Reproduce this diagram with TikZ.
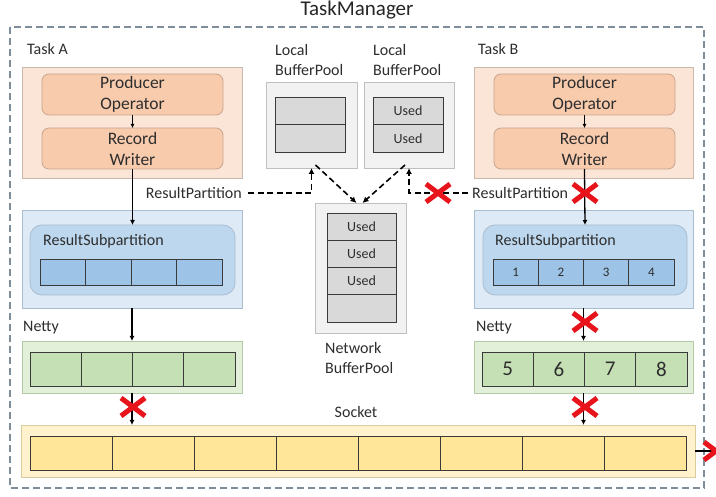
\documentclass[tikz,border=0pt]{standalone}
\usepackage{fontspec}
\setmainfont{Carlito}
\usetikzlibrary{arrows.meta}
\definecolor{txt}{HTML}{2E2E2E}
\definecolor{taskfill}{HTML}{FBE5D6}
\definecolor{taskline}{HTML}{C9B8AE}
\definecolor{opfill}{HTML}{F8CBAD}
\definecolor{opline}{HTML}{C8A48C}
\definecolor{bluefill}{HTML}{DEEBF7}
\definecolor{blueline}{HTML}{A9BCD0}
\definecolor{blueinner}{HTML}{BDD7EE}
\definecolor{bluecell}{HTML}{9DC3E6}
\definecolor{greenfill}{HTML}{E2F0D9}
\definecolor{greenline}{HTML}{B5C9A8}
\definecolor{greencell}{HTML}{C5E0B4}
\definecolor{yelfill}{HTML}{FFF2CC}
\definecolor{yelline}{HTML}{D9CC9C}
\definecolor{yelcell}{HTML}{FFE699}
\definecolor{grayfill}{HTML}{F2F2F2}
\definecolor{grayline}{HTML}{BFBFBF}
\definecolor{graycell}{HTML}{D9D9D9}
\definecolor{cellline}{HTML}{3A3A3A}
\definecolor{xred}{HTML}{E8141B}
\definecolor{frame}{HTML}{7F8C99}
\tikzset{
  base/.style={inner sep=0pt, outer sep=0pt, anchor=north west},
  taskbox/.style={base, draw=taskline, fill=taskfill, line width=0.8pt},
  opbox/.style={base, draw=opline, fill=opfill, line width=0.8pt, rounded corners=7pt, align=center, font=\fontsize{17.5}{21}\selectfont, text=txt},
  bluebox/.style={base, draw=blueline, fill=bluefill, line width=0.8pt},
  blueinbox/.style={base, draw=blueline, fill=blueinner, line width=0.8pt, rounded corners=12pt},
  bluecellbox/.style={base, draw=cellline, fill=bluecell, line width=0.8pt, font=\fontsize{13}{15}\selectfont, text=txt},
  greenbox/.style={base, draw=greenline, fill=greenfill, line width=0.8pt},
  greencellbox/.style={base, draw=cellline, fill=greencell, line width=0.8pt, font=\fontsize{21}{25}\selectfont, text=txt},
  yelbox/.style={base, draw=yelline, fill=yelfill, line width=0.8pt},
  yelcellbox/.style={base, draw=cellline, fill=yelcell, line width=0.8pt},
  graybox/.style={base, draw=grayline, fill=grayfill, line width=0.8pt},
  graycellbox/.style={base, draw=cellline, fill=graycell, line width=0.8pt, font=\fontsize{14}{16}\selectfont, text=txt},
  lbl/.style={inner sep=0pt, anchor=west, font=\fontsize{16}{20}\selectfont, text=txt},
  arr/.style={line width=1.3pt, -{Latex[length=5pt,width=5pt]}},
  dsh/.style={line width=1.6pt, dash pattern=on 6pt off 3.5pt, -{Latex[length=6pt,width=6pt]}},
  redx/.pic={\draw[xred, line width=5pt] (-12,-9) -- (12,9) (-12,9) -- (12,-9);}
}
\begin{document}
\begin{tikzpicture}[x=1pt,y=-1pt]
\useasboundingbox (0,0) rectangle (716,497);
\fill[white] (0,0) rectangle (716,497);

% frame
\node[inner sep=0pt, font=\fontsize{21}{24}\selectfont, text=black!85] (title) at (357,10) {TaskManager};
\draw[frame, line width=1.2pt, dash pattern=on 7pt off 4pt] (10,27) rectangle (704,488);

% Task A
\node[lbl] (tA) at (27,49) {Task A};
\node[taskbox, minimum width=220, minimum height=111] (taskA) at (22,67) {};
\node[opbox, minimum width=181, minimum height=41] (prodA) at (42,74) {Producer\\Operator};
\node[opbox, minimum width=181, minimum height=41] (recA) at (42,128) {Record\\Writer};
\draw[line width=1pt, -{Latex[length=4pt,width=4pt]}] (prodA.south) -- (recA.north);
\node[lbl, anchor=east] (rpAl) at (242,193) {ResultPartition};

% Task B
\node[lbl] (tB) at (478,49) {Task B};
\node[taskbox, minimum width=219, minimum height=111] (taskB) at (474,67) {};
\node[opbox, minimum width=181, minimum height=41] (prodB) at (494,74) {Producer\\Operator};
\node[opbox, minimum width=181, minimum height=41] (recB) at (494,128) {Record\\Writer};
\draw[line width=1pt, -{Latex[length=4pt,width=4pt]}] (prodB.south) -- (recB.north);
\node[lbl] (rpBl) at (472,193) {ResultPartition};

% Result partitions
\node[bluebox, minimum width=220, minimum height=98] (rpA) at (22,210) {};
\node[blueinbox, minimum width=205, minimum height=70] (rsA) at (30,225) {};
\node[lbl] (rsAl) at (43,241) {ResultSubpartition};
\foreach \i in {1,...,4} \node[bluecellbox, minimum width=45.5, minimum height=26] (cA\i) at ({40+(\i-1)*45.5},259) {};

\node[bluebox, minimum width=219, minimum height=98] (rpB) at (474,210) {};
\node[blueinbox, minimum width=204, minimum height=70] (rsB) at (483,225) {};
\node[lbl] (rsBl) at (495,241) {ResultSubpartition};
\foreach \i in {1,...,4} \node[bluecellbox, minimum width=45.25, minimum height=26] (cB\i) at ({493+(\i-1)*45.25},259) {\i};

% Netty
\node[lbl] (nAl) at (23,328) {Netty};
\node[greenbox, minimum width=220, minimum height=52] (nettyA) at (22,341) {};
\foreach \i in {1,...,4} \node[greencellbox, minimum width=51.25, minimum height=34] (gA\i) at ({30+(\i-1)*51.25},352) {};
\node[lbl] (nBl) at (476,328) {Netty};
\node[greenbox, minimum width=219, minimum height=52] (nettyB) at (474,341) {};
\foreach \i/\t in {1/5,2/6,3/7,4/8} \node[greencellbox, minimum width=51.25, minimum height=34] (gB\i) at ({482+(\i-1)*51.25},352) {\t};

% Socket
\node[inner sep=0pt, font=\fontsize{16}{20}\selectfont, text=txt] (sockl) at (356,412) {Socket};
\node[yelbox, minimum width=674, minimum height=52] (socket) at (21,425) {};
\foreach \i in {1,...,8} \node[yelcellbox, minimum width=82.1, minimum height=34] (s\i) at ({30+(\i-1)*82.1},436) {};

% Buffer pools
\node[lbl, align=left] (lbp1l) at (275,60) {Local\\BufferPool};
\node[graybox, minimum width=91, minimum height=86] (lbp1) at (266,82) {};
\node[graycellbox, minimum width=70, minimum height=27.5] (l1a) at (275,97) {};
\node[graycellbox, minimum width=70, minimum height=27.5] (l1b) at (275,124.5) {};

\node[lbl, align=left] (lbp2l) at (373,60) {Local\\BufferPool};
\node[graybox, minimum width=90, minimum height=86] (lbp2) at (364,82) {};
\node[graycellbox, minimum width=70, minimum height=27.5] (l2a) at (373,97) {Used};
\node[graycellbox, minimum width=70, minimum height=27.5] (l2b) at (373,124.5) {Used};

\node[graybox, minimum width=91, minimum height=130] (nbp) at (315,203) {};
\node[graycellbox, minimum width=69, minimum height=27.25] (nb1) at (327,213) {Used};
\node[graycellbox, minimum width=69, minimum height=27.25] (nb2) at (327,240.25) {Used};
\node[graycellbox, minimum width=69, minimum height=27.25] (nb3) at (327,267.5) {Used};
\node[graycellbox, minimum width=69, minimum height=27.25] (nb4) at (327,294.75) {};
\node[lbl, align=left] (nbpl) at (325,358) {Network\\BufferPool};

% solid arrows
\draw[arr] (recA.south) -- (rsA.north);
\draw[arr] (rpA.south) -- (nettyA.north);
\draw[arr] (nettyA.south) -- (nettyA.south |- socket.north);
\draw[arr] (recB.south) -- (rsB.north);
\draw[arr] (rpB.south) -- (nettyB.north);
\draw[arr] (nettyB.south) -- (nettyB.south |- socket.north);
\coordinate (outp) at (716,451);
\draw[arr] (socket.east) -- (socket.east -| outp);

% dashed arrows
\draw[dsh] ([xshift=6pt]rpAl.east) -| (lbp1.south);
\draw[dsh] ([xshift=-4pt]rpBl.west) -| (lbp2.south);
\draw[dsh] ([xshift=4pt,yshift=3pt]lbp1.south) -- ([xshift=-4pt]nbp.north);
\draw[dsh] ([xshift=-4pt,yshift=3pt]lbp2.south) -- ([xshift=2pt]nbp.north);

% red crosses
\pic at (438,193) {redx};
\pic at (585,193) {redx};
\pic at (585,322) {redx};
\pic at (585,407) {redx};
\pic at (133,407) {redx};
\pic at (716,451) {redx};
\end{tikzpicture}
\end{document}
